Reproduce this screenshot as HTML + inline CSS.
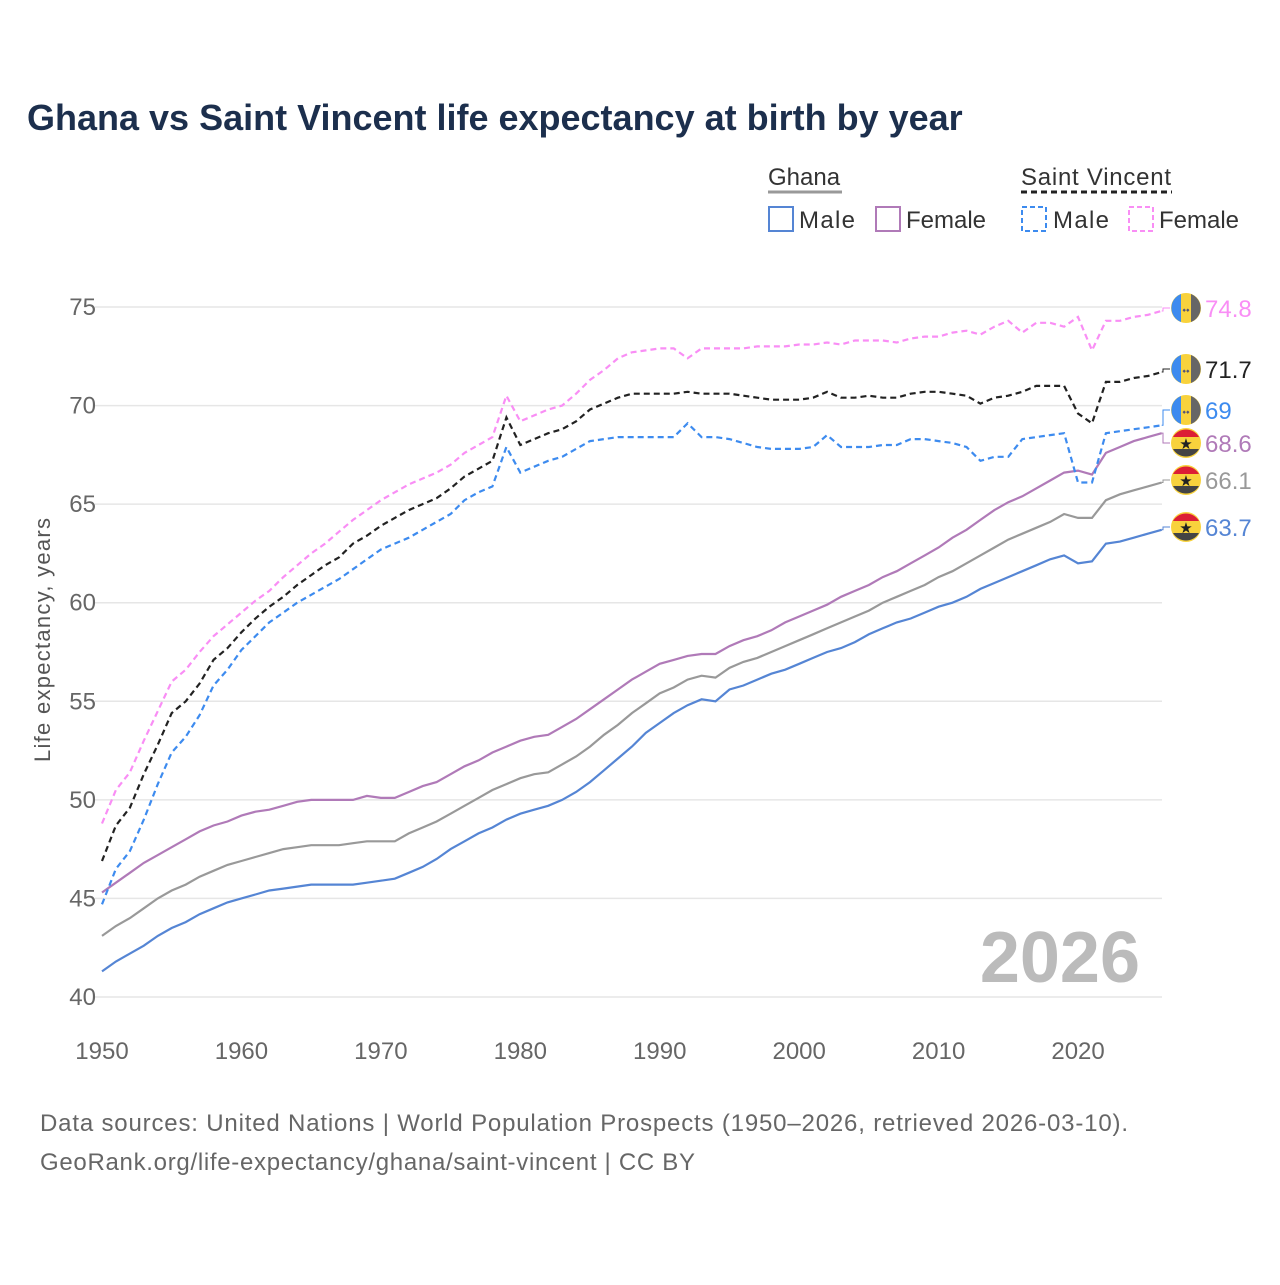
<!DOCTYPE html>
<html><head><meta charset="utf-8"><style>
body{margin:0;background:#fff;font-family:"Liberation Sans",sans-serif}
</style></head><body>
<svg id="chart" width="1280" height="1280" viewBox="0 0 1280 1280" xmlns="http://www.w3.org/2000/svg" font-family="Liberation Sans, sans-serif">
<rect width="1280" height="1280" fill="#fff"/>
<text x="27" y="130" font-size="36" font-weight="bold" fill="#1c2f4d">Ghana vs Saint Vincent life expectancy at birth by year</text>
<g font-size="24" fill="#333">
 <text x="768" y="185">Ghana</text>
 <line x1="768" y1="192" x2="842" y2="192" stroke="#999" stroke-width="3"/>
 <text x="1021" y="185" textLength="150">Saint Vincent</text>
 <line x1="1021" y1="192" x2="1172" y2="192" stroke="#222" stroke-width="3" stroke-dasharray="6,4"/>
 <g><rect x="769" y="207" width="24" height="24" fill="none" stroke="#5585d4" stroke-width="2"/><text x="799" y="228" textLength="56">Male</text></g>
 <g><rect x="876" y="207" width="24" height="24" fill="none" stroke="#b07ab8" stroke-width="2"/><text x="906" y="228">Female</text></g>
 <g><rect x="1022" y="207" width="24" height="24" fill="none" stroke="#3d8bef" stroke-width="2" stroke-dasharray="5,3"/><text x="1053" y="228" textLength="56">Male</text></g>
 <g><rect x="1129" y="207" width="24" height="24" fill="none" stroke="#f98ef5" stroke-width="2" stroke-dasharray="5,3"/><text x="1159" y="228">Female</text></g>
</g>
<text transform="translate(50,640) rotate(-90)" text-anchor="middle" font-size="22" fill="#555" textLength="244">Life expectancy, years</text>
<g id="grid"></g><g id="series"></g><g id="labels"></g>
<text x="1140" y="982" text-anchor="end" font-size="72" font-weight="bold" fill="#bbb">2026</text>
<text x="40" y="1131" font-size="24" fill="#666" textLength="1088">Data sources: United Nations | World Population Prospects (1950–2026, retrieved 2026-03-10).</text>
<text x="40" y="1170" font-size="24" fill="#666" textLength="655">GeoRank.org/life-expectancy/ghana/saint-vincent | CC BY</text>
</svg>
<script>
const startYear = 1950;
const ghanaMale = [41.3,41.8,42.2,42.6,43.1,43.5,43.8,44.2,44.5,44.8,45.0,45.2,45.4,45.5,45.6,45.7,45.7,45.7,45.7,45.8,45.9,46.0,46.3,46.6,47.0,47.5,47.9,48.3,48.6,49.0,49.3,49.5,49.7,50.0,50.4,50.9,51.5,52.1,52.7,53.4,53.9,54.4,54.8,55.1,55.0,55.6,55.8,56.1,56.4,56.6,56.9,57.2,57.5,57.7,58.0,58.4,58.7,59.0,59.2,59.5,59.8,60.0,60.3,60.7,61.0,61.3,61.6,61.9,62.2,62.4,62.0,62.1,63.0,63.1,63.3,63.5,63.7];
const ghanaTotal = [43.1,43.6,44.0,44.5,45.0,45.4,45.7,46.1,46.4,46.7,46.9,47.1,47.3,47.5,47.6,47.7,47.7,47.7,47.8,47.9,47.9,47.9,48.3,48.6,48.9,49.3,49.7,50.1,50.5,50.8,51.1,51.3,51.4,51.8,52.2,52.7,53.3,53.8,54.4,54.9,55.4,55.7,56.1,56.3,56.2,56.7,57.0,57.2,57.5,57.8,58.1,58.4,58.7,59.0,59.3,59.6,60.0,60.3,60.6,60.9,61.3,61.6,62.0,62.4,62.8,63.2,63.5,63.8,64.1,64.5,64.3,64.3,65.2,65.5,65.7,65.9,66.1];
const ghanaFemale = [45.3,45.8,46.3,46.8,47.2,47.6,48.0,48.4,48.7,48.9,49.2,49.4,49.5,49.7,49.9,50.0,50.0,50.0,50.0,50.2,50.1,50.1,50.4,50.7,50.9,51.3,51.7,52.0,52.4,52.7,53.0,53.2,53.3,53.7,54.1,54.6,55.1,55.6,56.1,56.5,56.9,57.1,57.3,57.4,57.4,57.8,58.1,58.3,58.6,59.0,59.3,59.6,59.9,60.3,60.6,60.9,61.3,61.6,62.0,62.4,62.8,63.3,63.7,64.2,64.7,65.1,65.4,65.8,66.2,66.6,66.7,66.5,67.6,67.9,68.2,68.4,68.6];
const svMale = [44.7,46.5,47.4,49.0,50.8,52.4,53.2,54.3,55.8,56.6,57.6,58.3,59.0,59.5,60.0,60.4,60.8,61.2,61.7,62.2,62.7,63.0,63.3,63.7,64.1,64.5,65.2,65.6,65.9,67.9,66.6,66.9,67.2,67.4,67.8,68.2,68.3,68.4,68.4,68.4,68.4,68.4,69.1,68.4,68.4,68.3,68.1,67.9,67.8,67.8,67.8,67.9,68.5,67.9,67.9,67.9,68.0,68.0,68.3,68.3,68.2,68.1,67.9,67.2,67.4,67.4,68.3,68.4,68.5,68.6,66.1,66.1,68.6,68.7,68.8,68.9,69.0];
const svTotal = [46.9,48.7,49.6,51.3,52.8,54.4,55.0,55.9,57.1,57.7,58.5,59.2,59.8,60.3,60.9,61.4,61.9,62.3,63.0,63.4,63.9,64.3,64.7,65.0,65.3,65.8,66.4,66.8,67.2,69.4,68.0,68.3,68.6,68.8,69.2,69.8,70.1,70.4,70.6,70.6,70.6,70.6,70.7,70.6,70.6,70.6,70.5,70.4,70.3,70.3,70.3,70.4,70.7,70.4,70.4,70.5,70.4,70.4,70.6,70.7,70.7,70.6,70.5,70.1,70.4,70.5,70.7,71.0,71.0,71.0,69.6,69.1,71.2,71.2,71.4,71.5,71.7];
const svFemale = [48.8,50.5,51.4,53.0,54.5,56.0,56.6,57.5,58.3,58.9,59.5,60.1,60.6,61.3,61.9,62.5,63.0,63.6,64.2,64.7,65.2,65.6,66.0,66.3,66.6,67.0,67.6,68.0,68.4,70.5,69.2,69.5,69.8,70.0,70.6,71.3,71.8,72.4,72.7,72.8,72.9,72.9,72.4,72.9,72.9,72.9,72.9,73.0,73.0,73.0,73.1,73.1,73.2,73.1,73.3,73.3,73.3,73.2,73.4,73.5,73.5,73.7,73.8,73.6,74.0,74.3,73.7,74.2,74.2,74.0,74.5,72.8,74.3,74.3,74.5,74.6,74.8];
const yTicks = [40,45,50,55,60,65,70,75];
const xTicks = [1950,1960,1970,1980,1990,2000,2010,2020];

const NS="http://www.w3.org/2000/svg";
const X0=102,X1=1161.7,Y0=997,Y1=307;
const xs=y=>X0+(y-1950)*(X1-X0)/76;
const ys=v=>Y0-(v-40)*(Y0-Y1)/35;
function mk(tag,attrs,parent){const e=document.createElementNS(NS,tag);for(const k in attrs)e.setAttribute(k,attrs[k]);parent.appendChild(e);return e;}
const grid=document.getElementById('grid');
yTicks.forEach(t=>{
 const l=mk('line',{x1:95,x2:1162,y1:ys(t),y2:ys(t),stroke:'#e6e6e6','stroke-width':1.5},grid);
 
 
 const tx=mk('text',{x:96,y:ys(t)+8,'text-anchor':'end','font-size':24,fill:'#666'},grid);
 tx.textContent=t;
 
 
});
xTicks.forEach(t=>{
 const tx=mk('text',{x:xs(t),y:1059,'text-anchor':'middle','font-size':24,fill:'#666'},grid);
 tx.textContent=t;
 
 
});
const ser=document.getElementById('series');
function line(data,color,dash,name){
 const d=data.map((v,i)=>(i?'L':'M')+xs(startYear+i).toFixed(1)+','+ys(v).toFixed(1)).join('');
 const p=mk('path',{d:d,fill:'none',stroke:color,'stroke-width':2.2,'stroke-dasharray':dash||'none'},ser);
 
 
}
line(ghanaTotal,'#999','', 'ghana-total-line');
line(ghanaFemale,'#b07ab8','', 'ghana-female-line');
line(ghanaMale,'#5585d4','', 'ghana-male-line');
line(svMale,'#3d8bef','6,4','sv-male-line');
line(svTotal,'#222','6,4','sv-total-line');
line(svFemale,'#f98ef5','6,4','sv-female-line');

const lab=document.getElementById('labels');
const ends=[[svFemale,'#f98ef5',308,'sv'],[svTotal,'#222',369,'sv'],[svMale,'#3d8bef',410,'sv'],[ghanaFemale,'#b07ab8',443,'gh'],[ghanaTotal,'#999',480,'gh'],[ghanaMale,'#5585d4',527,'gh']];
ends.forEach(([arr,col,ly,fl])=>{
 const v=arr[arr.length-1];const vy=ys(v);
 mk('path',{d:`M${X1},${vy} L1163,${vy} L1163,${ly} L1170,${ly}`,fill:'none',stroke:col,'stroke-width':1},lab);
 const g=mk('g',{},lab);
 
 
 const cx=1186,r=15;
 if(fl==='sv'){
  mk('circle',{cx:cx,cy:ly,r:r,fill:'#f8d23c'},g);
  mk('path',{d:`M${cx-5},${ly-r+1} A${r},${r} 0 0 0 ${cx-5},${ly+r-1} Z`,fill:'#3d8bef'},g);
  mk('path',{d:`M${cx+5},${ly-r+1} A${r},${r} 0 0 1 ${cx+5},${ly+r-1} Z`,fill:'#666'},g);
  mk('text',{x:cx,y:ly+5,'text-anchor':'middle','font-size':10,fill:'#557'},g).textContent='⬩⬩';
 }else{
  mk('circle',{cx:cx,cy:ly,r:r,fill:'#f8d23c'},g);
  mk('path',{d:`M${cx-13},${ly-6} A${r},${r} 0 0 1 ${cx+13},${ly-6} Z`,fill:'#dc1e35'},g);
  mk('path',{d:`M${cx-13},${ly+6} A${r},${r} 0 0 0 ${cx+13},${ly+6} Z`,fill:'#444'},g);
  mk('text',{x:cx,y:ly+6,'text-anchor':'middle','font-size':15,fill:'#222'},g).textContent='★';
 }
 const t=mk('text',{x:1205,y:ly+9,'font-size':24,fill:col},lab);
 t.textContent=String(v);
 
 
});
</script>
</body></html>
